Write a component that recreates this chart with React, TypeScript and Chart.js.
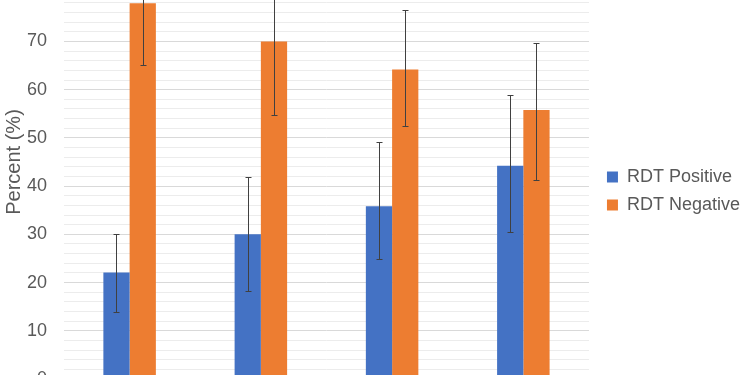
import React, { useEffect, useRef } from 'react';
import { Chart, registerables } from 'chart.js';

Chart.register(...registerables);

// ---- data ----
const categories = ['Group 1', 'Group 2', 'Group 3', 'Group 4'];
const seriesNames = ['RDT Positive', 'RDT Negative'];
const positiveValues = [22.1, 30.0, 35.8, 44.2];
const negativeValues = [77.9, 70.0, 64.2, 55.8];
const positiveLow = [13.9, 18.3, 24.9, 30.5];
const positiveHigh = [30.0, 41.9, 49.1, 58.8];
const negativeLow = [65.2, 54.8, 52.4, 41.3];
const negativeHigh = [88.0, 84.5, 76.6, 69.6];
const yTickLabels = ['0', '10', '20', '30', '40', '50', '60', '70', '80', '90'];
const yAxisTitle = 'Percent (%)';

const BLUE = '#4472C4';
const ORANGE = '#ED7D31';
const TEXT = '#595959';
const FONT = '"Liberation Sans", Arial, Helvetica, sans-serif';

const errorBarPlugin = {
  id: 'errorBars',
  afterDatasetsDraw(chart: any) {
    const ctx = chart.ctx;
    const yScale = chart.scales.y;
    const bounds = [
      [positiveLow, positiveHigh],
      [negativeLow, negativeHigh],
    ];
    ctx.save();
    ctx.strokeStyle = '#404040';
    ctx.lineWidth = 1;
    chart.data.datasets.forEach((_ds: any, i: number) => {
      const meta = chart.getDatasetMeta(i);
      const [lo, hi] = bounds[i];
      meta.data.forEach((bar: any, j: number) => {
        const x = Math.round(bar.x) + 0.5;
        const yHi = Math.round(yScale.getPixelForValue(hi[j])) + 0.5;
        const yLo = Math.round(yScale.getPixelForValue(lo[j])) + 0.5;
        const cap = 3;
        ctx.beginPath();
        ctx.moveTo(x, yHi);
        ctx.lineTo(x, yLo);
        ctx.moveTo(x - cap, yHi);
        ctx.lineTo(x + cap, yHi);
        ctx.moveTo(x - cap, yLo);
        ctx.lineTo(x + cap, yLo);
        ctx.stroke();
      });
    });
    ctx.restore();
  },
};

export default function App() {
  const canvasRef = useRef<HTMLCanvasElement | null>(null);

  useEffect(() => {
    if (!canvasRef.current) return;
    const chart = new Chart(canvasRef.current, {
      type: 'bar',
      data: {
        labels: categories,
        datasets: [
          {
            label: seriesNames[0],
            data: positiveValues,
            backgroundColor: BLUE,
            borderWidth: 0,
            categoryPercentage: 0.4,
            barPercentage: 1.0,
          },
          {
            label: seriesNames[1],
            data: negativeValues,
            backgroundColor: ORANGE,
            borderWidth: 0,
            categoryPercentage: 0.4,
            barPercentage: 1.0,
          },
        ],
      },
      options: {
        animation: false,
        responsive: true,
        maintainAspectRatio: false,
        layout: { padding: { top: 15, left: 0, right: 0, bottom: 0 } },
        plugins: {
          tooltip: { enabled: false },
          legend: {
            position: 'right',
            align: 'center',
            labels: {
              boxWidth: 11,
              boxHeight: 11,
              padding: 10,
              color: TEXT,
              font: { family: FONT, size: 18 },
            },
          },
        },
        scales: {
          x: {
            grid: { display: false },
            border: { display: false },
            ticks: { display: false },
            afterFit: (s: any) => {
              s.height = 58;
            },
          },
          y: {
            min: 0,
            max: 90,
            border: { display: false },
            grid: {
              drawTicks: false,
              color: (c: any) =>
                c.tick && c.tick.value % 10 === 0 ? '#d9d9d9' : '#ececec',
              lineWidth: 1,
            },
            ticks: {
              stepSize: 2,
              autoSkip: false,
              padding: 17,
              color: TEXT,
              font: { family: FONT, size: 18 },
              callback: (v: any) =>
                Number(v) % 10 === 0 ? yTickLabels[Number(v) / 10] : '',
            },
            title: {
              display: true,
              text: yAxisTitle,
              color: TEXT,
              font: { family: FONT, size: 20 },
              padding: { top: 2, bottom: 0 },
            },
            afterFit: (s: any) => {
              s.width = 64;
              s.paddingTop = 0;
              s.paddingBottom = 0;
            },
          },
          yRight: {
            position: 'right',
            display: false,
            afterFit: (s: any) => {
              s.width = 8;
            },
          },
        },
      },
      plugins: [errorBarPlugin],
    } as any);
    return () => chart.destroy();
  }, []);

  return (
    <div
      style={{
        position: 'fixed',
        left: 0,
        top: 0,
        width: 750,
        height: 375,
        overflow: 'hidden',
        background: '#ffffff',
      }}
    >
      <div style={{ position: 'absolute', left: 0, top: -70, width: 750, height: 507 }}>
        <canvas ref={canvasRef} />
      </div>
    </div>
  );
}
